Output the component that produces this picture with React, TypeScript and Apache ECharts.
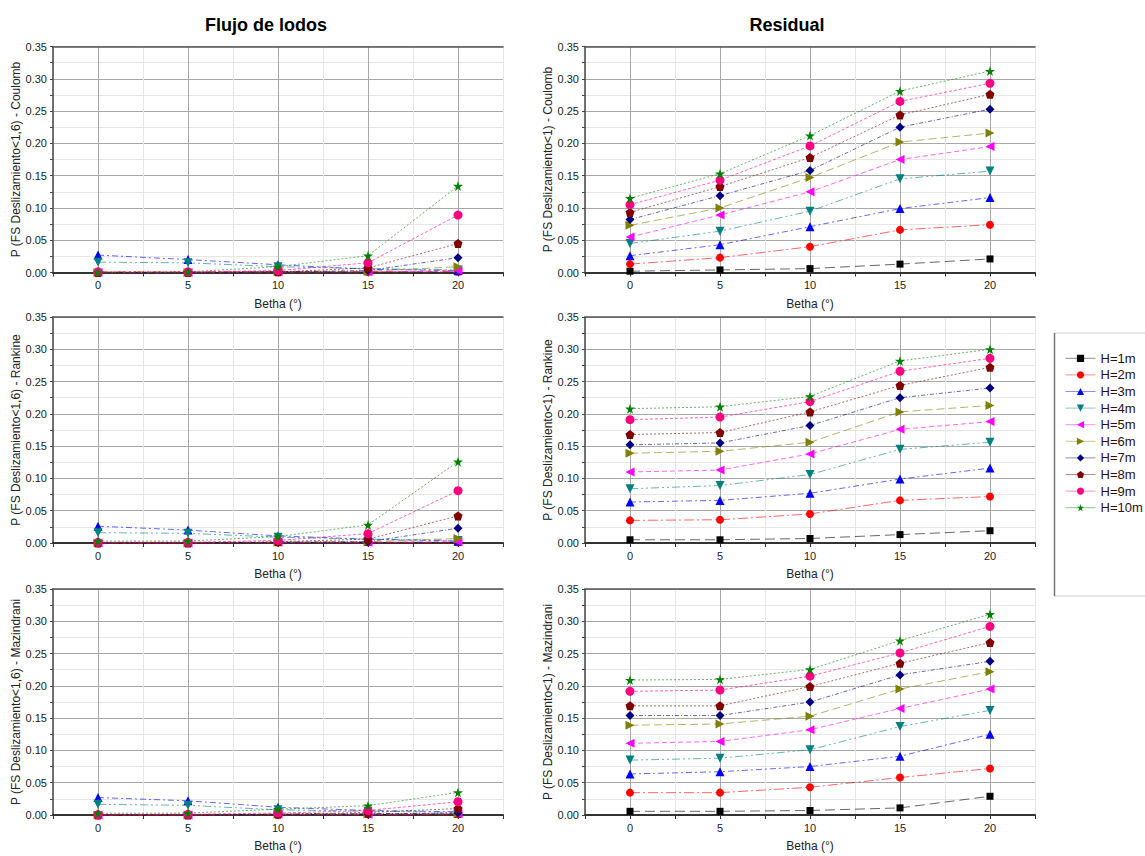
import React, { useEffect, useRef } from "react";
import * as echarts from "echarts";

const betha = [0, 5, 10, 15, 20];
const seriesNames = ["H=1m", "H=2m", "H=3m", "H=4m", "H=5m", "H=6m", "H=7m", "H=8m", "H=9m", "H=10m"];
const yTickValues = [0, 0.05, 0.1, 0.15, 0.2, 0.25, 0.3, 0.35];
const xTickValues = [0, 5, 10, 15, 20];

// Flujo de lodos
const lodosCoulomb = [
  [0, 0, 0.001, 0.001, 0.001],
  [0.001, 0.001, 0.001, 0.001, 0.001],
  [0.027, 0.02, 0.012, 0.005, 0.003],
  [0.016, 0.015, 0.009, 0.006, 0.004],
  [0, 0, 0.001, 0.001, 0.003],
  [0, 0, 0.001, 0.002, 0.009],
  [0, 0, 0.001, 0.003, 0.023],
  [0, 0, 0.001, 0.007, 0.045],
  [0.001, 0.001, 0.003, 0.015, 0.089],
  [0.0005, 0.001, 0.009, 0.026, 0.134],
];
const lodosRankine = [
  [0, 0, 0.001, 0.001, 0.001],
  [0.001, 0.001, 0.001, 0.001, 0.001],
  [0.026, 0.02, 0.011, 0.006, 0.003],
  [0.016, 0.015, 0.009, 0.006, 0.004],
  [0, 0, 0.001, 0.001, 0.002],
  [0, 0, 0.001, 0.002, 0.007],
  [0, 0, 0.001, 0.002, 0.023],
  [0, 0, 0.002, 0.006, 0.042],
  [0.001, 0.001, 0.004, 0.0145, 0.081],
  [0.003, 0.003, 0.01, 0.028, 0.126],
];
const lodosMazindrani = [
  [0, 0, 0.001, 0.001, 0.001],
  [0.001, 0.001, 0.001, 0.001, 0.001],
  [0.027, 0.022, 0.012, 0.007, 0.005],
  [0.0165, 0.015, 0.008, 0.006, 0.004],
  [0, 0, 0.001, 0.001, 0.002],
  [0, 0, 0.001, 0.002, 0.002],
  [0, 0, 0.001, 0.002, 0.003],
  [0, 0, 0.001, 0.004, 0.01],
  [0.0005, 0.001, 0.003, 0.007, 0.0205],
  [0.0026, 0.003, 0.009, 0.0145, 0.035],
];

// Residual
const residualCoulomb = [
  [0.002, 0.004, 0.006, 0.013, 0.021],
  [0.013, 0.023, 0.04, 0.066, 0.074],
  [0.026, 0.043, 0.071, 0.099, 0.116],
  [0.045, 0.064, 0.095, 0.145, 0.157],
  [0.055, 0.089, 0.125, 0.175, 0.195],
  [0.073, 0.1, 0.147, 0.202, 0.216],
  [0.082, 0.119, 0.158, 0.225, 0.253],
  [0.093, 0.133, 0.178, 0.244, 0.276],
  [0.105, 0.143, 0.196, 0.265, 0.293],
  [0.115, 0.153, 0.212, 0.281, 0.312],
];
const residualRankine = [
  [0.005, 0.005, 0.007, 0.013, 0.019],
  [0.035, 0.036, 0.045, 0.066, 0.072],
  [0.0635, 0.066, 0.077, 0.099, 0.116],
  [0.084, 0.089, 0.106, 0.145, 0.156],
  [0.11, 0.113, 0.138, 0.176, 0.188],
  [0.139, 0.142, 0.156, 0.203, 0.213],
  [0.152, 0.155, 0.182, 0.225, 0.24],
  [0.168, 0.171, 0.203, 0.244, 0.272],
  [0.191, 0.195, 0.219, 0.266, 0.286],
  [0.208, 0.211, 0.227, 0.282, 0.3],
];
const residualMazindrani = [
  [0.0057, 0.0057, 0.007, 0.011, 0.029],
  [0.0346, 0.0346, 0.043, 0.058, 0.072],
  [0.0635, 0.067, 0.075, 0.091, 0.125],
  [0.085, 0.088, 0.101, 0.137, 0.162],
  [0.111, 0.114, 0.132, 0.165, 0.195],
  [0.139, 0.141, 0.153, 0.195, 0.222],
  [0.154, 0.154, 0.175, 0.217, 0.238],
  [0.169, 0.169, 0.199, 0.235, 0.267],
  [0.1915, 0.1935, 0.215, 0.251, 0.292],
  [0.209, 0.21, 0.2255, 0.27, 0.311],
];

const panelData = [lodosCoulomb, residualCoulomb, lodosRankine, residualRankine, lodosMazindrani, residualMazindrani];
const yNames = [
  "P (FS Deslizamiento<1,6) - Coulomb",
  "P (FS Deslizamiento<1) - Coulomb",
  "P (FS Deslizamiento<1,6) - Rankine",
  "P (FS Deslizamiento<1) - Rankine",
  "P (FS Deslizamiento<1,6) - Mazindrani",
  "P (FS Deslizamiento<1) - Mazindrani",
];

const COLORS = ["#000000", "#ff0000", "#0000ff", "#008080", "#ff00ff", "#808000", "#000080", "#800000", "#ff0080", "#008000"];
const STAR = "path://M50,0 L61,35 L98,35 L68,57 L79,91 L50,70 L21,91 L32,57 L2,35 L39,35 Z";
const PENT = "path://M50,0 L98,36 L80,95 L20,95 L2,36 Z";
const SYMBOLS = ["rect", "circle", "triangle", "triangle", "triangle", "triangle", "diamond", PENT, "circle", STAR];
const ROTATES = [0, 0, 0, 180, 90, -90, 0, 0, 0, 0];
const SIZES = [7, 8, 9, 9, 9, 9, 9, 9, 9, 10];
const DASHES: any[] = [[10, 5], [10, 3, 2, 3], [6, 3, 2, 3], [8, 3, 2, 3, 2, 3], [5, 3], [8, 4], [4, 2, 1, 2], [2, 2], [3, 2], [2, 2]];

const FONT = "'Liberation Sans', Arial, sans-serif";

const GRIDS = [
  { left: 53, top: 46.5 },
  { left: 585, top: 46.5 },
  { left: 53, top: 317 },
  { left: 585, top: 317 },
  { left: 53, top: 589 },
  { left: 585, top: 589 },
];

export default function App() {
  const ref = useRef<HTMLDivElement>(null);
  useEffect(() => {
    document.body.style.margin = "0";
    const chart = echarts.init(ref.current!, null, { renderer: "svg" });

    const grid = GRIDS.map((g) => ({ left: g.left, top: g.top, width: 450, height: 226 }));
    const xAxis: any[] = [];
    const yAxis: any[] = [];
    GRIDS.forEach((g, i) => {
      xAxis.push({
        type: "value",
        gridIndex: i,
        min: -2.5,
        max: 22.5,
        interval: 2.5,
        name: "Betha (°)",
        nameLocation: "middle",
        nameGap: 25,
        nameTextStyle: { fontFamily: FONT, fontSize: 12, color: "#222" },
        axisLine: { show: true, onZero: false, lineStyle: { color: "#333", width: 2 } },
        axisTick: { show: true, length: 4, lineStyle: { color: "#333" } },
        axisLabel: {
          fontFamily: FONT,
          fontSize: 11,
          color: "#222",
          margin: 7,
          formatter: (v: number) => (xTickValues.some((t) => Math.abs(t - v) < 1e-6) ? String(v) : ""),
        },
        splitLine: { show: true, lineStyle: { color: ["#e6e6e6", "#a8a8a8"], width: 1 } },
      });
      xAxis.push({
        type: "value",
        gridIndex: i,
        position: "top",
        min: -2.5,
        max: 22.5,
        interval: 2.5,
        axisLine: { show: true, onZero: false, lineStyle: { color: "#555", width: 1.5 } },
        axisTick: { show: false },
        axisLabel: { show: false },
        splitLine: { show: false },
      });
      yAxis.push({
        type: "value",
        gridIndex: i,
        min: 0,
        max: 0.35,
        interval: 0.025,
        name: yNames[i],
        nameLocation: "middle",
        nameGap: 31,
        nameTextStyle: { fontFamily: FONT, fontSize: 12, color: "#222" },
        axisLine: { show: true, onZero: false, lineStyle: { color: "#444", width: 1.5 } },
        axisTick: { show: true, length: 3, lineStyle: { color: "#444" } },
        axisLabel: {
          fontFamily: FONT,
          fontSize: 11,
          color: "#222",
          margin: 6,
          formatter: (v: number) => (yTickValues.some((t) => Math.abs(t - v) < 1e-6) ? v.toFixed(2) : ""),
        },
        splitLine: { show: true, lineStyle: { color: ["#a8a8a8", "#e6e6e6"], width: 1 } },
      });
    });

    const series: any[] = [];
    panelData.forEach((panel, p) => {
      panel.forEach((vals, h) => {
        series.push({
          type: "line",
          name: seriesNames[h],
          xAxisIndex: 2 * p,
          yAxisIndex: p,
          data: betha.map((b, k) => [b, vals[k]]),
          symbol: SYMBOLS[h],
          symbolSize: SIZES[h],
          symbolRotate: ROTATES[h],
          itemStyle: { color: COLORS[h] },
          lineStyle: { color: COLORS[h], width: 1, type: DASHES[h], opacity: 0.6 },
          z: 3 + h,
        });
      });
    });

    chart.setOption({
      animation: false,
      backgroundColor: "#ffffff",
      grid,
      xAxis,
      yAxis,
      series,
      legend: {
        data: seriesNames,
        orient: "vertical",
        left: 1065,
        top: 351.3,
        padding: 0,
        itemWidth: 30,
        itemHeight: 9,
        itemGap: 2.6,
        lineStyle: { type: "solid", width: 1, opacity: 0.45 },
        textStyle: { fontFamily: FONT, fontSize: 13, lineHeight: 14, color: "#2a1010" },
        selectedMode: false,
      },
      graphic: [
        {
          type: "text",
          x: 266,
          y: 25,
          style: { text: "Flujo de lodos", font: `bold 18px ${FONT}`, fill: "#000", align: "center", verticalAlign: "middle" },
        },
        {
          type: "text",
          x: 787,
          y: 25,
          style: { text: "Residual", font: `bold 18px ${FONT}`, fill: "#000", align: "center", verticalAlign: "middle" },
        },
        { type: "line", shape: { x1: 1054, y1: 333, x2: 1145, y2: 333 }, style: { stroke: "#d0d0d0", lineWidth: 1 } },
        { type: "line", shape: { x1: 1054, y1: 596, x2: 1145, y2: 596 }, style: { stroke: "#d0d0d0", lineWidth: 1 } },
        { type: "line", shape: { x1: 1054.5, y1: 333, x2: 1054.5, y2: 596 }, style: { stroke: "#777", lineWidth: 1.5 } },
      ],
    });
    return () => chart.dispose();
  }, []);
  return <div ref={ref} style={{ width: 1145, height: 856 }} />;
}
